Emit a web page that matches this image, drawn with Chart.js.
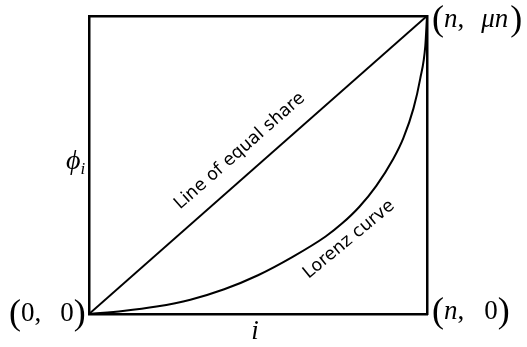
<!DOCTYPE html>
<html>
<head>
<meta charset="utf-8">
<script src="https://cdn.jsdelivr.net/npm/chart.js@4"></script>
<style>
  html, body { margin: 0; padding: 0; background: #fff; }
  #wrap { width: 527px; height: 347px; }
</style>
</head>
<body>
<div id="wrap"><canvas id="lorenz"></canvas></div>
<script>
// Data (share of population i vs cumulative share phi_i, both scaled 0..1)
const equalX = [0, 1];
const equalY = [0, 1];
const lorenzX = [0, 0.1, 0.2, 0.3, 0.4, 0.5, 0.6, 0.7, 0.75, 0.8, 0.85, 0.9, 0.93, 0.96, 0.98, 0.995, 1];
const lorenzY = [0, 0.01, 0.025, 0.048, 0.083, 0.13, 0.19, 0.26, 0.305, 0.36, 0.43, 0.52, 0.59, 0.69, 0.79, 0.9, 1];

const toPoints = (xs, ys) => xs.map((x, k) => ({ x: x, y: ys[k] }));

const SERIF = '"Liberation Serif", "Times New Roman", serif';
const SANS = '"DejaVu Sans", Verdana, sans-serif';

// draw a list of text runs left to right, starting at x
function drawRuns(ctx, x, y, runs) {
    runs.forEach(r => {
        ctx.font = r.font;
        ctx.fillText(r.t, x, y + (r.dy || 0));
        x += ctx.measureText(r.t).width + (r.gap || 0);
    });
}

const labelPlugin = {
    id: 'labels',
    afterDraw(chart) {
        const ctx = chart.ctx;
        const xs = chart.scales.x, ys = chart.scales.y;
        const x0 = xs.getPixelForValue(0), x1 = xs.getPixelForValue(1);
        const y0 = ys.getPixelForValue(0), y1 = ys.getPixelForValue(1);
        const paren = '36px ' + SERIF;
        const num = '27px ' + SERIF;
        const ital = 'italic 27px ' + SERIF;

        ctx.save();
        ctx.fillStyle = '#000';
        ctx.textBaseline = 'alphabetic';
        ctx.textAlign = 'left';

        // (0, 0)
        drawRuns(ctx, x0 - 80, y0 + 7, [
            { t: '(', font: paren, dy: 3 },
            { t: '0', font: num },
            { t: ',', font: num, gap: 19 },
            { t: '0', font: num },
            { t: ')', font: paren, dy: 3 }
        ]);
        // (n, 0)
        drawRuns(ctx, x1 + 5, y0 + 5, [
            { t: '(', font: paren, dy: 3 },
            { t: 'n', font: ital },
            { t: ',', font: num, gap: 20 },
            { t: '0', font: num },
            { t: ')', font: paren, dy: 3 }
        ]);
        // (n, μn)
        drawRuns(ctx, x1 + 5, y1 + 11, [
            { t: '(', font: paren, dy: 3 },
            { t: 'n', font: ital },
            { t: ',', font: num, gap: 17 },
            { t: 'μn', font: ital, gap: 2 },
            { t: ')', font: paren, dy: 3 }
        ]);

        // axis labels
        const ym = ys.getPixelForValue(0.5);
        drawRuns(ctx, x0 - 23, ym + 4, [
            { t: 'ϕ', font: 'italic 28px ' + SERIF },
            { t: 'i', font: 'italic 17px ' + SERIF, dy: 5 }
        ]);
        ctx.textAlign = 'center';
        ctx.font = ital;
        ctx.fillText('i', xs.getPixelForValue(0.5) - 3, y0 + 25);

        // rotated curve labels
        ctx.font = '17.5px ' + SANS;
        const ang = Math.atan2(y1 - y0, x1 - x0);
        ctx.save();
        ctx.translate(xs.getPixelForValue(0.455), ys.getPixelForValue(0.535));
        ctx.rotate(ang);
        ctx.fillText('Line of equal share', 0, 0);
        ctx.restore();

        ctx.save();
        ctx.translate(xs.getPixelForValue(0.778), ys.getPixelForValue(0.238));
        ctx.rotate(-39.6 * Math.PI / 180);
        ctx.fillText('Lorenz curve', 0, 0);
        ctx.restore();

        ctx.restore();
    }
};

const edge = (pos) => ({
    type: 'linear',
    position: pos,
    min: 0,
    max: 1,
    grid: { display: false, drawTicks: false },
    ticks: { display: false },
    border: { display: true, color: '#000', width: 2.5 }
});

new Chart(document.getElementById('lorenz'), {
    type: 'scatter',
    data: {
        datasets: [
            {
                label: 'Line of equal share',
                data: toPoints(equalX, equalY),
                showLine: true,
                borderColor: '#000',
                borderWidth: 2,
                pointRadius: 0
            },
            {
                label: 'Lorenz curve',
                data: toPoints(lorenzX, lorenzY),
                showLine: true,
                borderColor: '#000',
                borderWidth: 2,
                pointRadius: 0,
                cubicInterpolationMode: 'monotone'
            }
        ]
    },
    options: {
        responsive: true,
        maintainAspectRatio: false,
        animation: false,
        layout: { padding: { left: 89, right: 100, top: 16, bottom: 33 } },
        scales: {
            x: edge('bottom'),
            x2: edge('top'),
            y: edge('left'),
            y2: edge('right')
        },
        plugins: {
            legend: { display: false },
            tooltip: { enabled: false }
        }
    },
    plugins: [labelPlugin]
});
</script>
</body>
</html>
